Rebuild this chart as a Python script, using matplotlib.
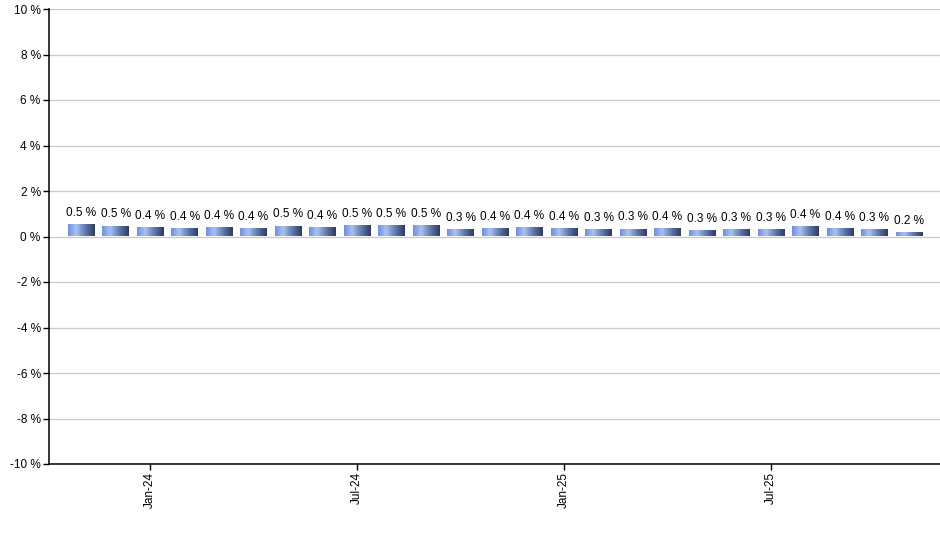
import numpy as np
import matplotlib.pyplot as plt
from matplotlib.colors import LinearSegmentedColormap
from matplotlib.ticker import FuncFormatter

# monthly values, Nov-23 .. Nov-25
months = ['Nov-23', 'Dec-23', 'Jan-24', 'Feb-24', 'Mar-24', 'Apr-24', 'May-24',
          'Jun-24', 'Jul-24', 'Aug-24', 'Sep-24', 'Oct-24', 'Nov-24', 'Dec-24',
          'Jan-25', 'Feb-25', 'Mar-25', 'Apr-25', 'May-25', 'Jun-25', 'Jul-25',
          'Aug-25', 'Sep-25', 'Oct-25', 'Nov-25']
values = [0.54, 0.46, 0.41, 0.37, 0.40, 0.37, 0.46, 0.40, 0.50, 0.50, 0.50, 0.32,
          0.37, 0.41, 0.37, 0.32, 0.34, 0.37, 0.28, 0.32, 0.32, 0.44, 0.37, 0.32,
          0.19]
tick_months = ['Jan-24', 'Jul-24', 'Jan-25', 'Jul-25']

plt.rcParams['font.family'] = ['Liberation Sans', 'DejaVu Sans']

fig = plt.figure(figsize=(9.4, 5.5), dpi=100)
ax = fig.add_axes([49 / 940, 86 / 550, 891 / 940, 455 / 550])

x = np.arange(len(months))
bars = ax.bar(x, values, width=0.76, color='none', edgecolor='none', zorder=3)

cmap = LinearSegmentedColormap.from_list(
    'bar', [(0, '#6b90e2'), (0.3, '#a9c2f4'), (0.65, '#5f78ad'), (1, '#2c3b5e')])
grad = np.linspace(0, 1, 100).reshape(1, -1)
for b in bars:
    x0, y0 = b.get_x(), b.get_y()
    w, h = b.get_width(), b.get_height()
    im = ax.imshow(grad, cmap=cmap, aspect='auto', extent=(x0, x0 + w, y0, y0 + h),
                   zorder=3, interpolation='bilinear')
    im.set_clip_path(b)

for xi, v in zip(x, values):
    ax.annotate(f'{v:.1f} %', (xi, v), xytext=(0, 4), textcoords='offset points',
                ha='center', va='bottom', fontsize=8.5)

ax.set_xlim(-0.93, len(months) - 0.1)
ax.set_ylim(-10, 10)
ax.set_yticks(np.arange(-10, 11, 2))
ax.yaxis.set_major_formatter(FuncFormatter(lambda v, p: f'{v:.0f} %'))
ax.set_xticks([months.index(m) for m in tick_months])
ax.set_xticklabels(tick_months, rotation=90)
ax.tick_params(labelsize=8.5, length=4, width=1, direction='out', pad=2)
ax.grid(axis='y', color='#c8c8c8', linewidth=0.9, zorder=0)
ax.set_axisbelow(True)
for s in ['top', 'right']:
    ax.spines[s].set_visible(False)
for s in ['left', 'bottom']:
    ax.spines[s].set_linewidth(1.1)
ax.spines['bottom'].set_zorder(4)

fig.savefig('out.png', dpi=100)
